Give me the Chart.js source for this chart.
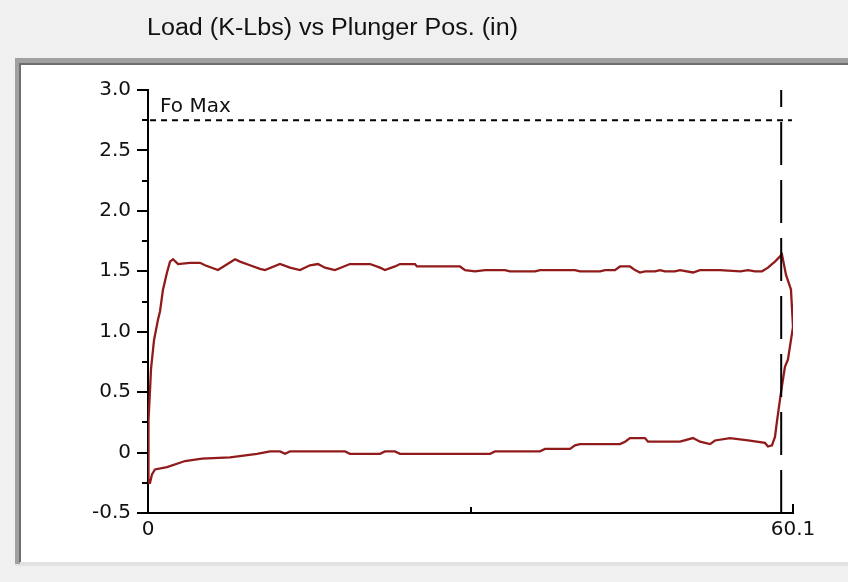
<!DOCTYPE html>
<html><head><meta charset="utf-8">
<script src="https://cdn.jsdelivr.net/npm/chart.js@4.4.1/dist/chart.umd.min.js"></script>
<style>
html,body{margin:0;padding:0;background:#f0f0f0;width:848px;height:582px;overflow:hidden;}
#wrap{position:relative;width:848px;height:582px;}
canvas{position:absolute;left:0;top:0;}
#title{position:absolute;left:147px;top:14px;font:23px "Liberation Sans",Arial,sans-serif;color:#111;white-space:nowrap;transform-origin:0 0;}
</style></head><body>
<div id="wrap"><canvas id="c" width="848" height="582"></canvas><div id="title"></div></div>
<script>
const chartTitle = 'Load (K-Lbs) vs Plunger Pos. (in)';
const foMaxLabel = 'Fo Max';
const foMaxLoad = 2.75;
const foMaxRange = [0.19, 60.0];
const strokeMarkerPos = 59.0;
const xTickValues = [0, 30.05, 60.1];
const xTickLabels = ['0', '', '60.1'];
const yTickMin = -0.5, yTickMax = 3.0, yMajorStep = 0.5, yMinorStep = 0.25;

const plungerPos = [0.09,0.00,0.09,0.19,0.28,0.56,0.93,1.12,1.40,1.77,2.05,2.33,2.80,3.91,4.85,5.31,6.52,8.11,8.57,9.50,
10.44,10.90,12.30,13.23,14.16,15.09,15.84,16.49,17.42,18.82,20.69,21.62,22.08,23.01,23.48,24.88,25.06,29.07,29.54,30.47,
31.40,33.26,33.73,36.06,36.53,39.79,40.25,42.12,42.58,43.51,43.98,44.91,45.38,45.84,46.31,47.24,47.71,48.17,49.10,49.57,
50.78,51.44,53.30,55.20,55.91,56.56,57.21,57.77,58.14,58.42,59.07,59.45,59.91,60.10,59.82,59.63,59.35,59.07,58.89,58.61,
58.42,58.14,57.77,57.49,55.91,54.23,52.83,52.37,51.44,50.78,49.57,46.59,46.31,44.91,44.45,43.98,40.25,39.79,39.32,36.99,
36.53,32.33,31.87,23.48,23.01,22.08,21.62,18.82,18.36,13.23,12.77,12.30,11.37,10.16,7.64,5.03,3.45,1.77,0.65,0.37,0.19,0.09];
const loadKlbs = [-0.25,0.00,0.27,0.52,0.69,0.93,1.10,1.17,1.35,1.49,1.58,1.60,1.56,1.57,1.57,1.55,1.51,1.60,1.58,1.55,
1.52,1.51,1.56,1.53,1.51,1.55,1.56,1.53,1.51,1.56,1.56,1.53,1.51,1.54,1.56,1.56,1.54,1.54,1.51,1.50,
1.51,1.51,1.50,1.50,1.51,1.51,1.50,1.50,1.51,1.51,1.54,1.54,1.51,1.49,1.50,1.50,1.51,1.50,1.50,1.51,
1.49,1.51,1.51,1.50,1.51,1.50,1.50,1.53,1.56,1.58,1.64,1.47,1.35,1.04,0.88,0.77,0.71,0.55,0.44,0.26,
0.13,0.06,0.05,0.08,0.10,0.12,0.10,0.07,0.09,0.12,0.09,0.09,0.12,0.12,0.09,0.07,0.07,0.06,0.03,0.03,
0.01,0.01,-0.01,-0.01,0.01,0.01,-0.01,-0.01,0.01,0.01,-0.01,0.01,0.01,-0.01,-0.04,-0.05,-0.07,-0.12,-0.14,-0.18,-0.25,-0.25];

const titleEl = document.getElementById('title');
titleEl.textContent = chartTitle;
const tw = titleEl.getBoundingClientRect().width;
titleEl.style.transform = 'scaleX(' + (371 / tw) + ')';

const FONT = '"DejaVu Sans", sans-serif';

const panelPlugin = {
  id: 'panel',
  beforeDraw(chart) {
    const ctx = chart.ctx;
    ctx.save();
    ctx.fillStyle = '#f0f0f0';
    ctx.fillRect(0, 0, 848, 582);
    ctx.fillStyle = '#e2e2e2';
    ctx.fillRect(15, 58, 833, 508);
    ctx.fillStyle = '#a0a0a0';
    ctx.fillRect(15, 58, 833, 5);
    ctx.fillRect(15, 58, 5, 506);
    ctx.fillStyle = '#6e6e6e';
    ctx.fillRect(19, 63, 829, 2);
    ctx.fillRect(19, 63, 2, 499);
    ctx.fillStyle = '#ffffff';
    ctx.fillRect(21, 65, 827, 497);
    ctx.restore();
  }
};

const ticksPlugin = {
  id: 'customTicks',
  afterDraw(chart) {
    const ctx = chart.ctx;
    const xs = chart.scales.x, ys = chart.scales.y;
    const left = chart.chartArea.left, bottom = chart.chartArea.bottom;
    ctx.save();
    ctx.strokeStyle = '#000';
    ctx.lineWidth = 2;
    const n = Math.round((yTickMax - yTickMin) / yMinorStep);
    for (let i = 0; i <= n; i++) {
      const v = yTickMin + i * yMinorStep;
      const y = Math.round(ys.getPixelForValue(v));
      const len = (i % 2 === 0) ? 11 : 6;
      ctx.beginPath();
      ctx.moveTo(left - len, y);
      ctx.lineTo(left, y);
      ctx.stroke();
    }
    xTickValues.forEach((v, i) => {
      if (i === 0) return;
      const x = Math.round(xs.getPixelForValue(v));
      const len = i === xTickValues.length - 1 ? 9 : 6;
      ctx.beginPath();
      ctx.moveTo(x, bottom);
      ctx.lineTo(x, bottom - len);
      ctx.stroke();
    });
    ctx.fillStyle = '#111';
    ctx.font = '20px ' + FONT;
    ctx.textBaseline = 'alphabetic';
    ctx.textAlign = 'left';
    ctx.fillText(foMaxLabel, xs.getPixelForValue(0) + 12, ys.getPixelForValue(foMaxLoad) - 8);
    ctx.restore();
  }
};

const cardData = plungerPos.map((x, i) => ({ x: x, y: loadKlbs[i] }));

new Chart(document.getElementById('c'), {
  type: 'scatter',
  data: {
    datasets: [
      {
        label: 'Stroke',
        data: [{ x: strokeMarkerPos, y: yTickMin }, { x: strokeMarkerPos, y: yTickMax }],
        showLine: true, borderColor: '#000', borderWidth: 2, borderDash: [43, 15],
        pointRadius: 0, fill: false
      },
      {
        label: foMaxLabel,
        data: [{ x: foMaxRange[0], y: foMaxLoad }, { x: foMaxRange[1], y: foMaxLoad }],
        showLine: true, borderColor: '#000', borderWidth: 2, borderDash: [6, 5],
        pointRadius: 0, fill: false
      },
      {
        label: 'Load',
        data: cardData,
        showLine: true, borderColor: '#911b1b', borderWidth: 2.3,
        pointRadius: 0, tension: 0, fill: false
      }
    ]
  },
  options: {
    responsive: false,
    animation: false,
    layout: { padding: { top: 90, right: 55, bottom: 0, left: 0 } },
    plugins: { legend: { display: false }, tooltip: { enabled: false }, title: { display: false } },
    scales: {
      x: {
        type: 'linear', min: 0, max: 60.1,
        afterFit(scale) { scale.height = 69; },
        afterBuildTicks(scale) { scale.ticks = xTickValues.map(v => ({ value: v })); },
        grid: { display: false, drawTicks: false },
        border: { display: true, color: '#000', width: 2 },
        ticks: {
          autoSkip: false, maxRotation: 0, padding: 5, color: '#111',
          font: { family: FONT, size: 20 },
          callback: (v, i) => xTickLabels[i]
        }
      },
      y: {
        type: 'linear', min: yTickMin, max: yTickMax,
        afterFit(scale) { scale.width = 148; },
        grid: { display: false, drawTicks: false },
        border: { display: true, color: '#000', width: 2 },
        ticks: {
          stepSize: yMajorStep, padding: 17, color: '#111',
          font: { family: FONT, size: 20 },
          callback: (v) => (Math.abs(v) < 1e-9 ? '0' : v.toFixed(1))
        }
      }
    }
  },
  plugins: [panelPlugin, ticksPlugin]
});
</script>
</body></html>
